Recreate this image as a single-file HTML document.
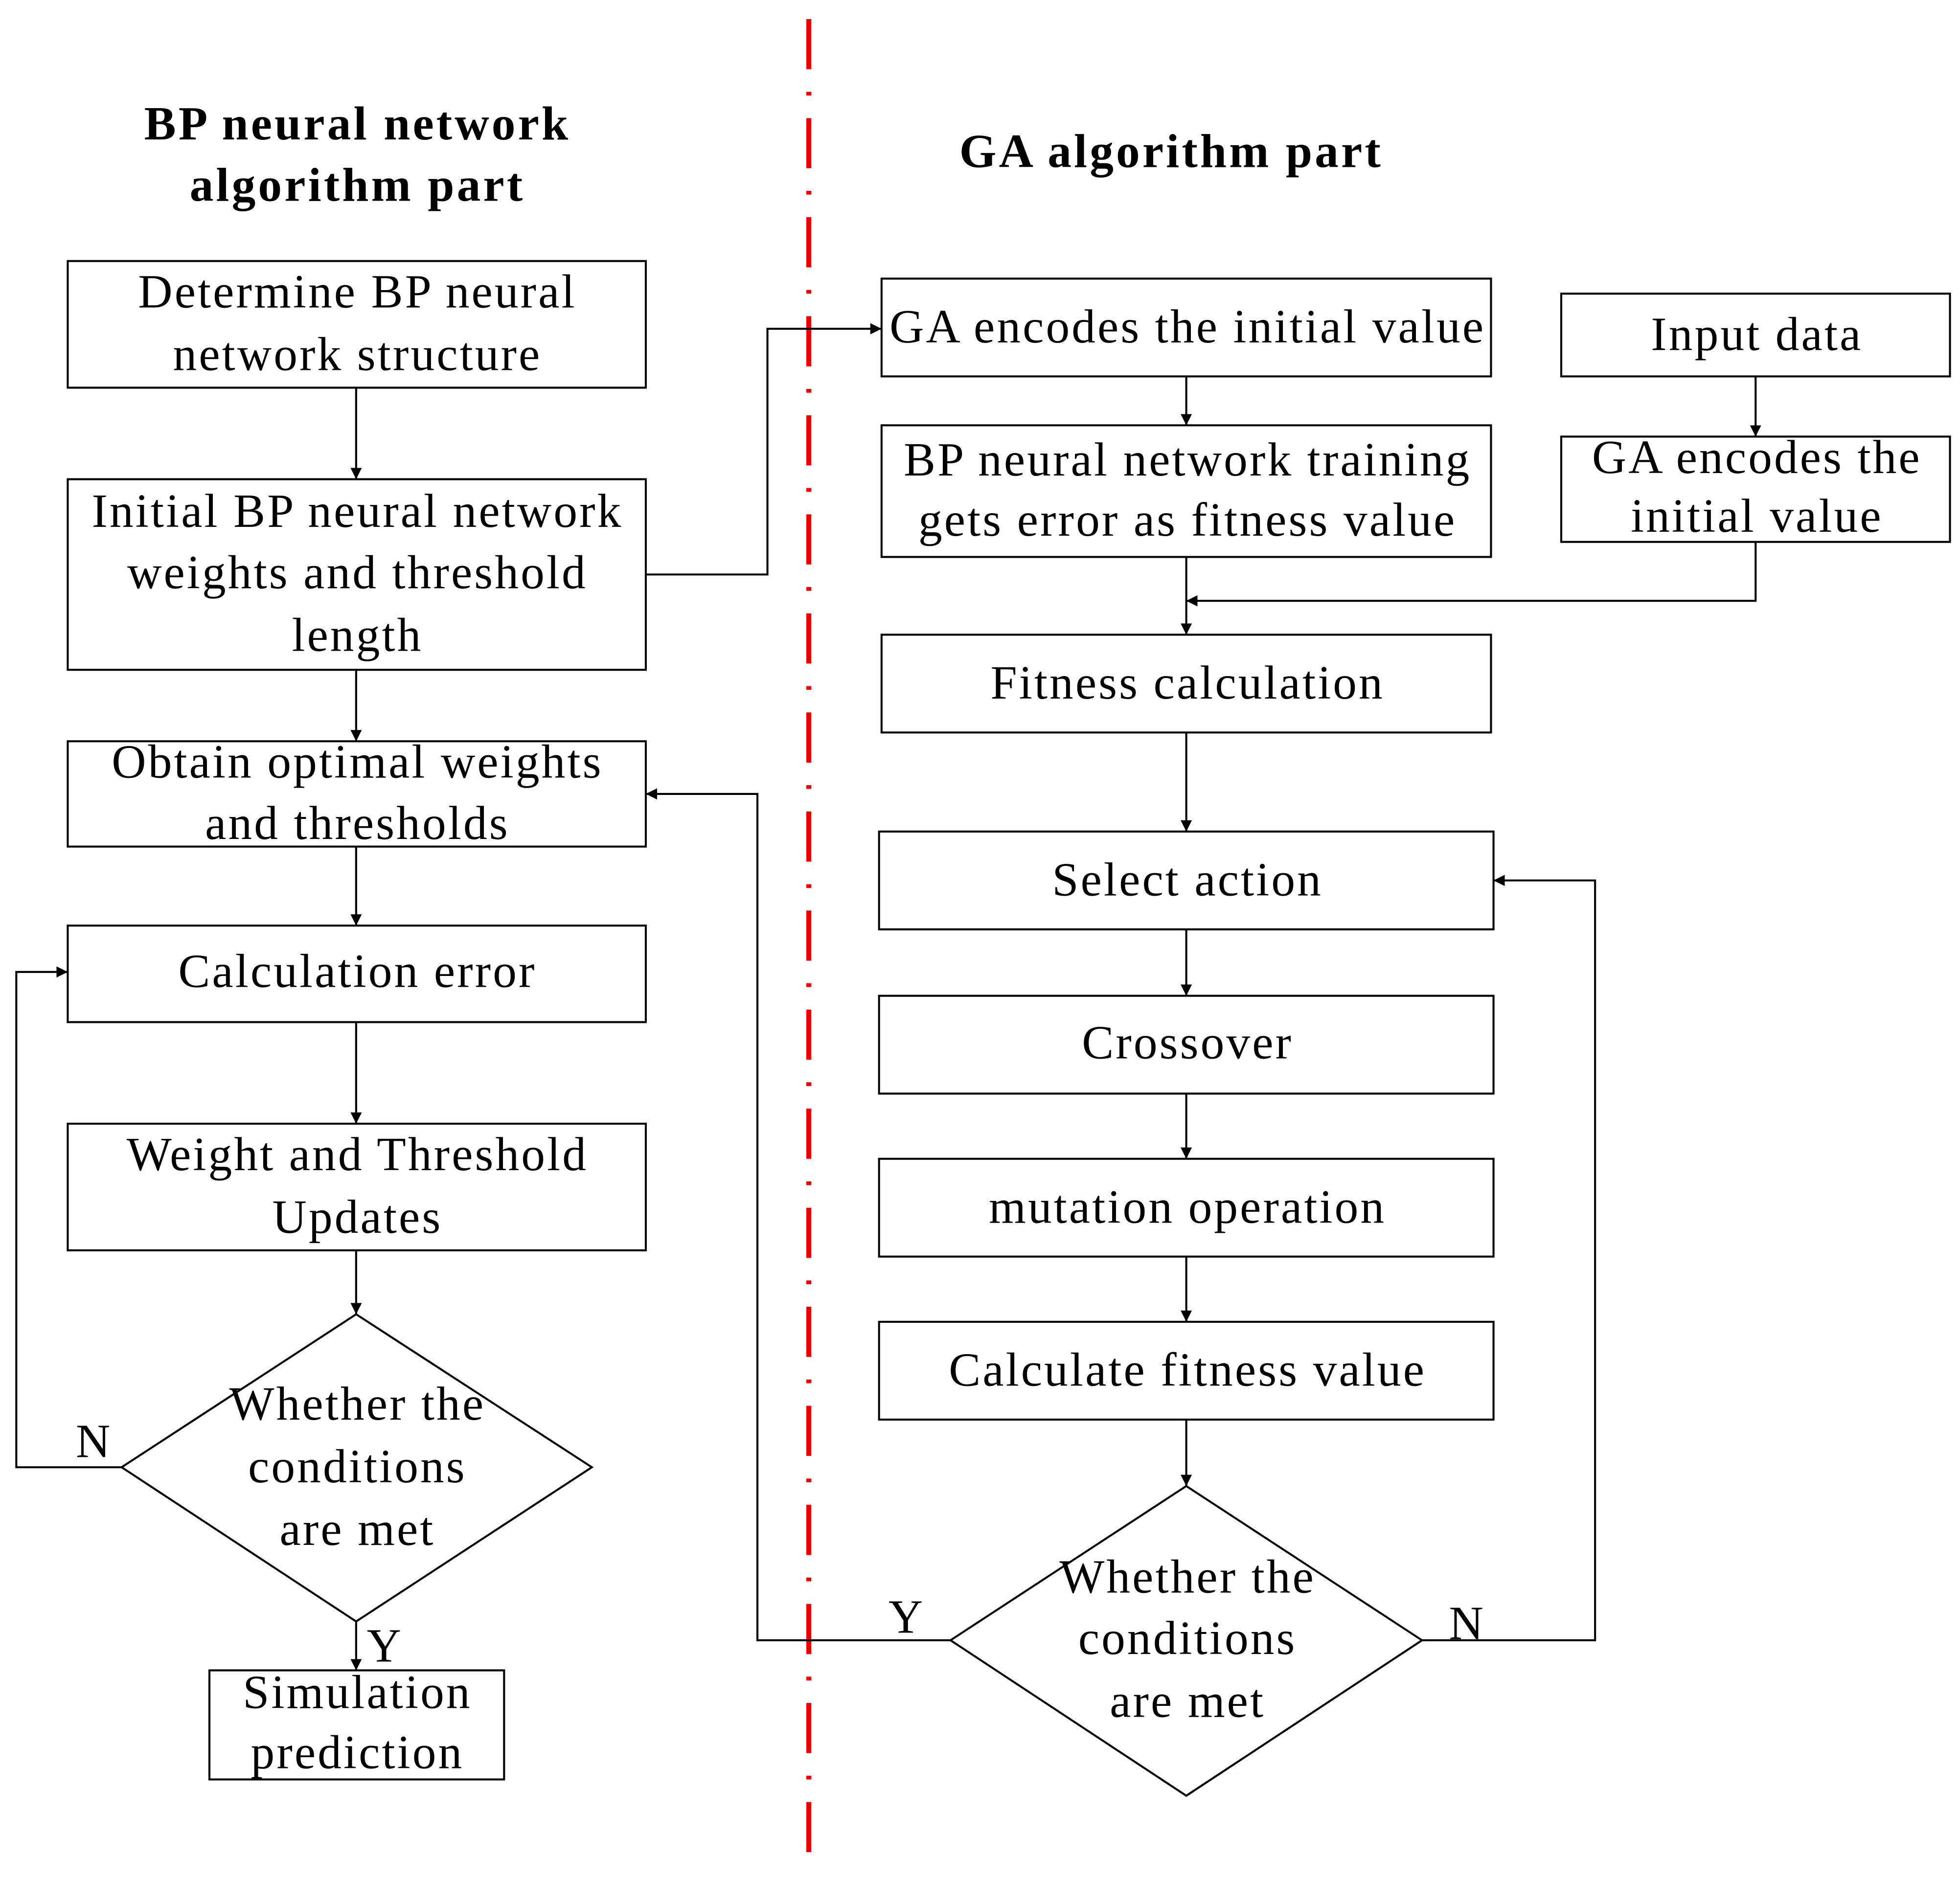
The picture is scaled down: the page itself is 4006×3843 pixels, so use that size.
<!DOCTYPE html>
<html><head><meta charset="utf-8"><style>html,body{margin:0;padding:0;background:#fff}svg{display:block}</style></head>
<body>
<svg xmlns="http://www.w3.org/2000/svg" width="4006" height="3843" viewBox="0 0 1563 1499">
<defs><marker id="a" viewBox="0 0 10 10" refX="10" refY="5" markerWidth="9" markerHeight="9" markerUnits="userSpaceOnUse" orient="auto"><path d="M0,0 L10,5 L0,10 z" fill="#000"/></marker></defs>
<rect width="1563" height="1499" fill="#fff"/>
<g font-family="Liberation Serif, serif" text-anchor="middle" fill="#000" font-size="38" font-weight="bold" letter-spacing="2">
<text x="285" y="111">BP neural network</text>
<text x="285" y="160">algorithm part</text>
<text x="934" y="133">GA algorithm part</text>
</g>
<line x1="645" y1="15" x2="645" y2="1490" stroke="#e00" stroke-width="4" stroke-dasharray="40,18,3,18"/>
<g fill="none" stroke="#000" stroke-width="1.6">
<rect x="54" y="208" width="461" height="101"/>
<rect x="54" y="382" width="461" height="152"/>
<rect x="54" y="591" width="461" height="84"/>
<rect x="54" y="738" width="461" height="77"/>
<rect x="54" y="896" width="461" height="101"/>
<polygon points="284,1048 472,1170 284,1293 97,1170"/>
<rect x="167" y="1332" width="235" height="87"/>
<rect x="703" y="222" width="486" height="78"/>
<rect x="703" y="339" width="486" height="105"/>
<rect x="703" y="506" width="486" height="78"/>
<rect x="701" y="663" width="490" height="78"/>
<rect x="701" y="794" width="490" height="78"/>
<rect x="701" y="924" width="490" height="78"/>
<rect x="701" y="1054" width="490" height="78"/>
<polygon points="946,1185 1134,1308 946,1432 758,1308"/>
<rect x="1245" y="234" width="310" height="66"/>
<rect x="1245" y="348" width="310" height="84"/>
<g marker-end="url(#a)">
<line x1="284" y1="309" x2="284" y2="382"/>
<line x1="284" y1="534" x2="284" y2="591"/>
<line x1="284" y1="675" x2="284" y2="738"/>
<line x1="284" y1="815" x2="284" y2="896"/>
<line x1="284" y1="997" x2="284" y2="1048"/>
<line x1="284" y1="1293" x2="284" y2="1332"/>
<polyline points="97,1170 13,1170 13,775 54,775"/>
<polyline points="515,458 612,458 612,262 703,262"/>
<line x1="946" y1="300" x2="946" y2="339"/>
<line x1="946" y1="444" x2="946" y2="506"/>
<line x1="946" y1="584" x2="946" y2="663"/>
<line x1="946" y1="741" x2="946" y2="794"/>
<line x1="946" y1="872" x2="946" y2="924"/>
<line x1="946" y1="1002" x2="946" y2="1054"/>
<line x1="946" y1="1132" x2="946" y2="1185"/>
<line x1="1400" y1="300" x2="1400" y2="348"/>
<polyline points="1400,432 1400,479 946,479"/>
<polyline points="1134,1308 1272,1308 1272,702 1191,702"/>
<polyline points="758,1308 604,1308 604,633 515,633"/>
</g>
</g>
<g font-family="Liberation Serif, serif" font-size="38" text-anchor="middle" fill="#000" letter-spacing="1.6">
<text x="285" y="245">Determine BP neural</text>
<text x="285" y="295">network structure</text>
<text x="285" y="420">Initial BP neural network</text>
<text x="285" y="469">weights and threshold</text>
<text x="285" y="519">length</text>
<text x="285" y="620">Obtain optimal weights</text>
<text x="285" y="669">and thresholds</text>
<text x="285" y="787">Calculation error</text>
<text x="285" y="933">Weight and Threshold</text>
<text x="285" y="983">Updates</text>
<text x="285" y="1132">Whether the</text>
<text x="285" y="1182">conditions</text>
<text x="285" y="1232">are met</text>
<text x="285" y="1362">Simulation</text>
<text x="285" y="1410">prediction</text>
<text x="947" y="273">GA encodes the initial value</text>
<text x="947" y="379">BP neural network training</text>
<text x="947" y="427">gets error as fitness value</text>
<text x="947" y="557">Fitness calculation</text>
<text x="947" y="714">Select action</text>
<text x="947" y="844">Crossover</text>
<text x="947" y="975">mutation operation</text>
<text x="947" y="1105">Calculate fitness value</text>
<text x="947" y="1270">Whether the</text>
<text x="947" y="1319">conditions</text>
<text x="947" y="1369">are met</text>
<text x="1401" y="279">Input data</text>
<text x="1401" y="377">GA encodes the</text>
<text x="1401" y="424">initial value</text>
<text x="75" y="1162">N</text>
<text x="307" y="1325">Y</text>
<text x="723" y="1302">Y</text>
<text x="1170" y="1307">N</text>
</g>
</svg>
</body></html>
